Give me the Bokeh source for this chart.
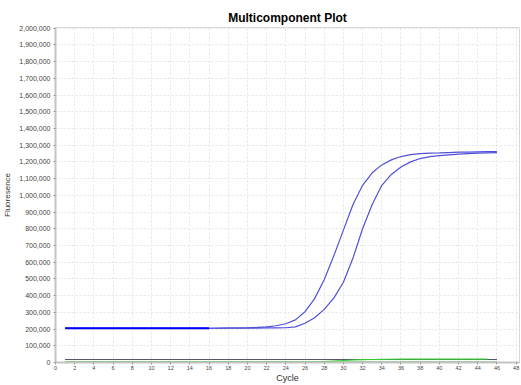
from bokeh.plotting import figure
from bokeh.models import Range1d, FixedTicker, NumeralTickFormatter
from bokeh.embed import file_html
from bokeh.resources import INLINE

cycles = list(range(1, 47))

reporter_a = [205000]*16 + [206000, 207000, 207000, 208000, 210000, 213000, 220000, 232000,
              255000, 304000, 382000, 495000, 638000, 792000, 945000, 1060000, 1135000,
              1182000, 1212000, 1232000, 1243000, 1250000, 1253000, 1254000, 1256000,
              1258000, 1259000, 1260000, 1261000, 1262000]
reporter_b = [205000]*16 + [205000, 205000, 205000, 206000, 206000, 207000, 207000, 208000,
              213000, 235000, 268000, 318000, 385000, 480000, 625000, 800000, 945000,
              1060000, 1125000, 1170000, 1200000, 1220000, 1232000, 1238000, 1242000,
              1246000, 1249000, 1252000, 1254000, 1256000]
passive = [18000]*46
green_flat = [2000]*46
green_rise = [3000]*27 + [5000, 9000, 12000, 15000, 17000, 18000, 19000, 19500, 20000,
              20000, 20000, 20000, 20000, 20000, 20000, 20000, 20000, 20000]

x_ticks = list(range(0, 50, 2))
y_ticks = list(range(0, 2000001, 100000))

p = figure(width=521, height=385, output_backend="svg", toolbar_location=None,
           x_range=Range1d(0, 48.35), y_range=Range1d(0, 2004000),
           min_border_left=54, min_border_right=2, min_border_top=27, min_border_bottom=0)

p.title.text = "Multicomponent Plot"
p.title.align = "center"
p.title.text_font = "Liberation Sans"
p.title.text_font_size = "12px"
p.title.text_font_style = "bold"
p.title.text_color = "#000000"
p.title.offset = 0
p.title.standoff = 6

p.outline_line_color = "#d8d8d8"
p.outline_line_width = 1
p.background_fill_color = "white"

for ax in (p.xaxis[0], p.yaxis[0]):
    ax.axis_line_color = "#c4c4c4"
    ax.axis_line_width = 2
    ax.major_tick_line_color = "#999999"
    ax.major_tick_in = 0
    ax.major_tick_out = 2
    ax.minor_tick_line_color = None
    ax.major_label_text_font = "Liberation Sans"
    ax.major_label_text_color = "#444444"
    ax.axis_label_text_font = "Liberation Sans"
    ax.axis_label_text_font_style = "normal"
    ax.axis_label_text_color = "#333333"

p.xaxis.ticker = FixedTicker(ticks=x_ticks)
p.yaxis.ticker = FixedTicker(ticks=y_ticks)
p.yaxis.formatter = NumeralTickFormatter(format="0,0")
p.xaxis.major_label_text_font_size = "5.5px"
p.yaxis.major_label_text_font_size = "7px"
p.xaxis.major_label_standoff = 1
p.yaxis.major_label_standoff = 3
p.xaxis.axis_label = "Cycle"
p.xaxis.axis_label_text_font_size = "9px"
p.xaxis.axis_label_standoff = 0
p.yaxis.axis_label = "Fluoresence"
p.yaxis.axis_label_text_font_size = "8px"
p.yaxis.axis_label_standoff = 4

p.grid.grid_line_color = "#e4e4e4"
p.grid.grid_line_dash = "2 2"
p.grid.grid_line_width = 1

p.line(cycles, passive, line_color="#55556a", line_width=1.2)
p.line(cycles, green_flat, line_color="#1aaa1a", line_width=1.5)
p.line(cycles, green_rise, line_color="#33cc33", line_width=1.2)
p.line(cycles, reporter_b, line_color="#5050d8", line_width=1.2)
p.line(cycles, reporter_a, line_color="#5050d8", line_width=1.2)
p.line(cycles[:16], reporter_a[:16], line_color="#0000ff", line_width=1.8)

open("out.html", "w").write(file_html(p, INLINE))
